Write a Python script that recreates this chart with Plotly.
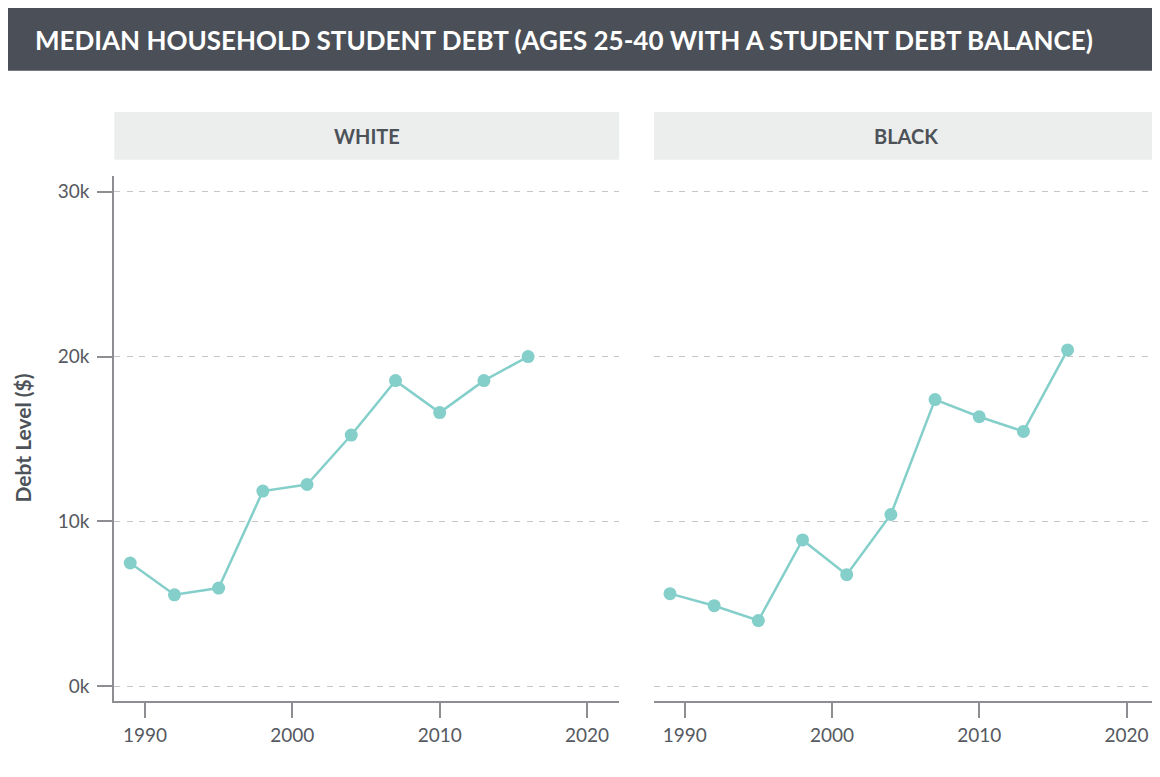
import plotly.graph_objects as go
from plotly.subplots import make_subplots

years = [1989, 1992, 1995, 1998, 2001, 2004, 2007, 2010, 2013, 2016]
white_debt = [7480, 5550, 5960, 11840, 12240, 15240, 18540, 16600, 18540, 20000]
black_debt = [5620, 4890, 3990, 8880, 6770, 10420, 17390, 16350, 15460, 20400]
panels = ["WHITE", "BLACK"]
x_ticks = [1990, 2000, 2010, 2020]
y_ticks = [0, 10000, 20000, 30000]
y_tick_labels = ["0k", "10k", "20k", "30k"]
title_text = "MEDIAN HOUSEHOLD STUDENT DEBT (AGES 25-40 WITH A STUDENT DEBT BALANCE)"
y_title = "Debt Level ($)"

W, H = 1160, 777
OFF = 8  # page body margin offset
FONT = "Lato"
LINE_COLOR = "#85cfcb"
AXIS_COLOR = "#8e8e92"
TEXT_COLOR = "#4d5259"
TICK_COLOR = "#56595f"
GRID_COLOR = "#c6c6c6"

def px_x(v):
    return (v - OFF) / W

def px_y(v):
    return 1 - (v - OFF) / H

fig = make_subplots(rows=1, cols=2, shared_yaxes=False)

for i, vals in enumerate([white_debt, black_debt]):
    fig.add_trace(
        go.Scatter(
            x=years, y=vals, mode="lines+markers",
            line=dict(color=LINE_COLOR, width=2.5),
            marker=dict(color=LINE_COLOR, size=13),
            showlegend=False,
            hovertemplate="%{x}: $%{y:,.0f}<extra></extra>",
        ),
        row=1, col=i + 1,
    )

x_domains = [[px_x(114.3), px_x(619.2)], [px_x(654.1), px_x(1158.6)]]
y_domain = [px_y(701), px_y(176)]

common_x = dict(
    range=[1987.92, 2022.18], tickvals=x_ticks, ticktext=[str(t) for t in x_ticks],
    showline=True, linecolor=AXIS_COLOR, linewidth=2,
    ticks="outside", ticklen=15, tickwidth=2, tickcolor=AXIS_COLOR,
    showgrid=False, zeroline=False,
    tickfont=dict(family=FONT, size=19, color=TICK_COLOR),
    ticklabelstandoff=1,
)
common_y = dict(
    range=[-890, 30950], tickvals=y_ticks, ticktext=y_tick_labels,
    showgrid=True, gridcolor=GRID_COLOR, gridwidth=1.2, griddash="6px,6.5px",
    zeroline=False,
    tickfont=dict(family=FONT, size=19, color=TICK_COLOR),
    domain=y_domain,
)

fig.update_layout(
    xaxis=dict(domain=x_domains[0], **common_x),
    xaxis2=dict(domain=x_domains[1], **common_x),
    yaxis=dict(showline=True, linecolor=AXIS_COLOR, linewidth=2,
               ticks="outside", ticklen=15, tickwidth=2, tickcolor=AXIS_COLOR,
               showticklabels=True, ticklabelstandoff=4, **common_y),
    yaxis2=dict(showline=False, ticks="", showticklabels=False, **common_y),
)

shapes = []
annotations = []

# Title bar
shapes.append(dict(type="rect", xref="paper", yref="paper",
                   x0=px_x(8), x1=px_x(1152), y0=px_y(70.7), y1=px_y(8),
                   fillcolor="#4b4f57", line=dict(width=0), layer="below"))
annotations.append(dict(text="<b>" + title_text + "</b>", xref="paper", yref="paper",
                        x=px_x(33), y=px_y(39.5), xanchor="left", yanchor="middle",
                        showarrow=False,
                        font=dict(family=FONT, size=26, color="#ffffff")))

# Facet strips
for name, dom in zip(panels, x_domains):
    shapes.append(dict(type="rect", xref="paper", yref="paper",
                       x0=dom[0], x1=dom[1], y0=px_y(159.7), y1=px_y(112),
                       fillcolor="#eceeed", line=dict(width=0), layer="below"))
    annotations.append(dict(text="<b>" + name + "</b>", xref="paper", yref="paper",
                            x=(dom[0] + dom[1]) / 2, y=px_y(136),
                            xanchor="center", yanchor="middle", showarrow=False,
                            font=dict(family=FONT, size=20, color=TEXT_COLOR)))

# Y axis title
annotations.append(dict(text="<b>" + y_title + "</b>", xref="paper", yref="paper",
                        x=px_x(22), y=(y_domain[0] + y_domain[1]) / 2,
                        xanchor="center", yanchor="middle", textangle=-90,
                        showarrow=False,
                        font=dict(family=FONT, size=21, color=TEXT_COLOR)))

fig.update_layout(
    width=W, height=H,
    margin=dict(l=0, r=0, t=0, b=0),
    paper_bgcolor="#ffffff", plot_bgcolor="#ffffff",
    shapes=shapes, annotations=annotations,
    font=dict(family=FONT, color=TEXT_COLOR),
)

fig.write_html("out.html")
